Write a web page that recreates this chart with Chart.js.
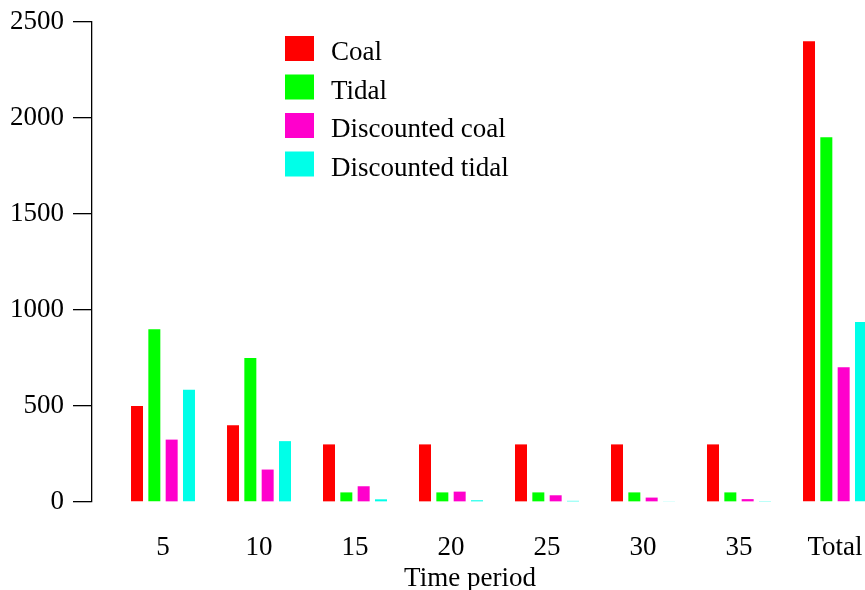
<!DOCTYPE html>
<html>
<head>
<meta charset="utf-8">
<script src="https://cdn.jsdelivr.net/npm/chart.js@4"></script>
<style>
  html, body { margin: 0; padding: 0; background: #fff; overflow: hidden; }
  #wrap { width: 865px; height: 590px; position: relative; }
</style>
</head>
<body>
<div id="wrap"><canvas id="barChart"></canvas></div>
<script>
let periods = ['5', '10', '15', '20', '25', '30', '35', 'Total'];
let coal = [500, 400, 300, 300, 300, 300, 300, 2400];
let tidal = [900, 750, 50, 50, 50, 50, 50, 1900];
let discCoal = [325, 169, 82, 54, 35, 23, 15, 702];
let discTidal = [585, 317, 14, 9, 6, 4, 2, 937];
let yTicks = [0, 500, 1000, 1500, 2000, 2500];

let serif = "'Liberation Serif', 'Times New Roman', serif";
let fontSize = 27;

function toPoints(values) {
    return values.map((v, i) => ({ x: i + 1, y: v }));
}

function makeSet(label, color, values) {
    return {
        label: label,
        backgroundColor: color,
        borderWidth: 0,
        data: toPoints(values),
        categoryPercentage: 0.722,
        barPercentage: 0.692,
        clip: false,
    };
}

let barChartData = {
    datasets: [
        makeSet('Coal', '#ff0000', coal),
        makeSet('Tidal', '#00ff00', tidal),
        makeSet('Discounted coal', '#ff00cc', discCoal),
        makeSet('Discounted tidal', '#00ffe8', discTidal),
    ]
};

// legend drawn inside the plot, like the original
let innerLegend = {
    id: 'innerLegend',
    afterDraw(chart) {
        let c = chart.ctx;
        c.save();
        c.font = fontSize + 'px ' + serif;
        c.textBaseline = 'alphabetic';
        c.textAlign = 'left';
        chart.data.datasets.forEach((ds, i) => {
            let y = 36 + i * 38.5;
            c.fillStyle = ds.backgroundColor;
            c.fillRect(285, y, 29, 25);
            c.fillStyle = '#000';
            c.fillText(ds.label, 331, y + 24);
        });
        c.restore();
    }
};

let ctx = document.getElementById('barChart').getContext('2d');

let myChart = new Chart(ctx, {
    type: 'bar',
    data: barChartData,
    plugins: [innerLegend],
    options: {
        responsive: true,
        maintainAspectRatio: false,
        animation: false,
        layout: { padding: { top: 22, right: 17, left: 0, bottom: 0 } },
        plugins: {
            legend: { display: false },
            tooltip: { enabled: false },
        },
        scales: {
            x: {
                type: 'linear',
                offset: false,
                min: 0.2604,
                max: 8.1354,
                grid: { display: false, drawTicks: false },
                border: { display: false },
                afterBuildTicks: (axis) => {
                    axis.ticks = periods.map((p, i) => ({ value: i + 1 }));
                },
                afterFit: (axis) => {
                    axis.height = 88;
                    axis.paddingLeft = 0;
                    axis.paddingRight = 0;
                },
                ticks: {
                    color: '#000',
                    font: { family: serif, size: fontSize },
                    padding: 30,
                    maxRotation: 0,
                    autoSkip: false,
                    callback: (v) => periods[Math.round(v) - 1],
                },
                title: {
                    display: true,
                    text: 'Time period',
                    color: '#000',
                    font: { family: serif, size: fontSize, lineHeight: 1 },
                    padding: { top: 0, bottom: -2 },
                },
            },
            y: {
                min: 0,
                max: 2500,
                afterBuildTicks: (axis) => {
                    axis.ticks = yTicks.map(v => ({ value: v }));
                },
                afterFit: (axis) => {
                    axis.width = 92;
                    axis.paddingTop = 0;
                    axis.paddingBottom = 0;
                },
                grid: {
                    drawOnChartArea: false,
                    drawTicks: true,
                    tickLength: 19,
                    color: '#000',
                    lineWidth: 1.3,
                },
                border: { display: true, color: '#000', width: 1.3 },
                ticks: {
                    color: '#000',
                    font: { family: serif, size: fontSize },
                    padding: 9,
                    callback: (v) => String(v),
                },
            },
        },
    },
});
</script>
</body>
</html>
